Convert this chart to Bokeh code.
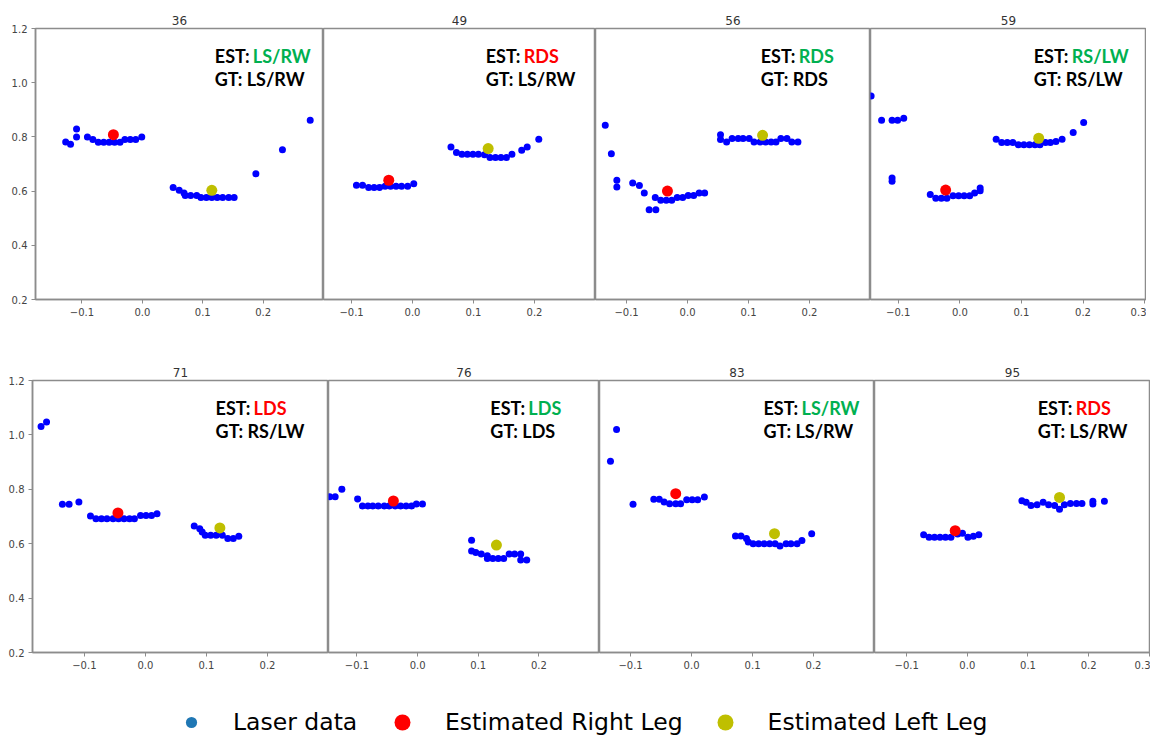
from bokeh.plotting import figure
from bokeh.layouts import column, row
from bokeh.models import Range1d, FixedTicker, Label, Legend, LegendItem
from bokeh.embed import file_html
from bokeh.resources import INLINE

# ---------------- data ----------------
titles = ["36", "49", "56", "59", "71", "76", "83", "95"]
est_labels = ["LS/RW", "RDS", "RDS", "RS/LW", "LDS", "LDS", "LS/RW", "RDS"]
est_correct = [True, False, True, True, False, True, True, False]
gt_labels = ["LS/RW", "LS/RW", "RDS", "RS/LW", "RS/LW", "LDS", "LS/RW", "LS/RW"]

right_leg_x = [-0.048, -0.039, -0.033, -0.023, -0.045, -0.040, -0.026, -0.020]
right_leg_y = [0.808, 0.640, 0.600, 0.604, 0.713, 0.757, 0.784, 0.648]
left_leg_x = [0.115, 0.124, 0.123, 0.128, 0.122, 0.130, 0.136, 0.152]
left_leg_y = [0.603, 0.757, 0.806, 0.795, 0.658, 0.595, 0.637, 0.770]

laser_x_36 = [-0.127, -0.119, -0.109, -0.109, -0.091, -0.082, -0.073, -0.064, -0.055, -0.046, -0.037,
              -0.029, -0.020, -0.011, -0.001, 0.051, 0.061, 0.069, 0.071, 0.080, 0.090, 0.097, 0.106,
              0.115, 0.124, 0.133, 0.143, 0.152, 0.188, 0.232, 0.278]
laser_y_36 = [0.781, 0.773, 0.829, 0.800, 0.800, 0.790, 0.780, 0.780, 0.780, 0.780, 0.780,
              0.790, 0.790, 0.790, 0.800, 0.613, 0.603, 0.593, 0.584, 0.584, 0.584, 0.576, 0.576,
              0.576, 0.576, 0.576, 0.576, 0.576, 0.664, 0.753, 0.861]

laser_x_49 = [-0.092, -0.082, -0.072, -0.063, -0.054, -0.045, -0.036, -0.027, -0.018, -0.008, 0.002,
              0.063, 0.072, 0.081, 0.090, 0.099, 0.108, 0.118, 0.127, 0.136, 0.145, 0.154, 0.163,
              0.179, 0.188, 0.207]
laser_y_49 = [0.622, 0.622, 0.613, 0.613, 0.613, 0.618, 0.618, 0.618, 0.618, 0.618, 0.627,
              0.763, 0.742, 0.736, 0.736, 0.736, 0.736, 0.734, 0.724, 0.724, 0.724, 0.724, 0.736,
              0.751, 0.763, 0.791]

laser_x_56 = [-0.135, -0.125, -0.116, -0.116, -0.090, -0.079, -0.071, -0.063, -0.052, -0.053, -0.044,
              -0.035, -0.026, -0.017, -0.008, 0.001, 0.010, 0.019, 0.028, 0.054, 0.054, 0.064, 0.073,
              0.083, 0.091, 0.101, 0.109, 0.119, 0.128, 0.137, 0.145, 0.153, 0.163, 0.171, 0.181]
laser_y_56 = [0.843, 0.738, 0.640, 0.615, 0.630, 0.621, 0.593, 0.531, 0.531, 0.576, 0.566,
              0.566, 0.566, 0.576, 0.576, 0.584, 0.584, 0.593, 0.593, 0.808, 0.790, 0.781, 0.794,
              0.794, 0.794, 0.794, 0.781, 0.781, 0.781, 0.781, 0.781, 0.794, 0.794, 0.781, 0.781]

laser_x_59 = [-0.144, -0.127, -0.110, -0.101, -0.091, -0.110, -0.110, -0.048, -0.039, -0.030, -0.021,
              -0.011, -0.002, 0.007, 0.016, 0.024, 0.033, 0.033, 0.059, 0.068, 0.077, 0.086, 0.095,
              0.104, 0.113, 0.122, 0.130, 0.139, 0.147, 0.156, 0.166, 0.184, 0.201]
laser_y_59 = [0.951, 0.861, 0.861, 0.861, 0.869, 0.648, 0.636, 0.587, 0.574, 0.574, 0.574,
              0.583, 0.583, 0.583, 0.583, 0.593, 0.601, 0.611, 0.791, 0.779, 0.779, 0.779, 0.771,
              0.771, 0.771, 0.771, 0.771, 0.779, 0.779, 0.783, 0.791, 0.816, 0.853]

laser_x_71 = [-0.171, -0.162, -0.136, -0.125, -0.109, -0.090, -0.081, -0.072, -0.063, -0.053, -0.044,
              -0.035, -0.026, -0.018, -0.008, 0.001, 0.010, 0.019, 0.080, 0.089, 0.093, 0.098, 0.107,
              0.116, 0.126, 0.135, 0.144, 0.153]
laser_y_71 = [1.031, 1.047, 0.745, 0.745, 0.753, 0.702, 0.692, 0.692, 0.692, 0.692, 0.692,
              0.692, 0.692, 0.692, 0.704, 0.704, 0.704, 0.710, 0.665, 0.655, 0.643, 0.631, 0.631,
              0.631, 0.631, 0.619, 0.619, 0.627]

laser_x_76 = [-0.145, -0.136, -0.125, -0.099, -0.091, -0.082, -0.074, -0.065, -0.055, -0.047, -0.037,
              -0.028, -0.019, -0.010, -0.002, 0.008, 0.089, 0.089, 0.096, 0.105, 0.115, 0.115, 0.124,
              0.133, 0.142, 0.151, 0.160, 0.170, 0.170, 0.180]
laser_y_76 = [0.773, 0.773, 0.800, 0.764, 0.739, 0.739, 0.739, 0.739, 0.739, 0.739, 0.739,
              0.739, 0.739, 0.739, 0.746, 0.746, 0.613, 0.573, 0.568, 0.562, 0.556, 0.546, 0.546,
              0.546, 0.546, 0.562, 0.562, 0.562, 0.540, 0.540]

laser_x_83 = [-0.133, -0.123, -0.096, -0.062, -0.053, -0.045, -0.036, -0.026, -0.018, -0.008, 0.001,
              0.010, 0.021, 0.072, 0.081, 0.090, 0.093, 0.101, 0.110, 0.119, 0.128, 0.137, 0.145,
              0.155, 0.163, 0.173, 0.181, 0.197]
laser_y_83 = [0.903, 1.020, 0.745, 0.763, 0.763, 0.753, 0.747, 0.747, 0.747, 0.762, 0.762,
              0.762, 0.772, 0.628, 0.628, 0.619, 0.606, 0.600, 0.600, 0.600, 0.600, 0.600, 0.592,
              0.600, 0.600, 0.600, 0.612, 0.637]

laser_x_95 = [-0.072, -0.063, -0.054, -0.045, -0.036, -0.027, -0.016, -0.008, 0.001, 0.010, 0.019,
              0.090, 0.097, 0.105, 0.115, 0.125, 0.134, 0.144, 0.152, 0.160, 0.170, 0.180, 0.189,
              0.207, 0.207, 0.226]
laser_y_95 = [0.633, 0.624, 0.624, 0.624, 0.624, 0.624, 0.636, 0.638, 0.624, 0.627, 0.633,
              0.758, 0.752, 0.740, 0.743, 0.752, 0.743, 0.740, 0.727, 0.743, 0.748, 0.748, 0.748,
              0.756, 0.746, 0.756]

laser_x = [laser_x_36, laser_x_49, laser_x_56, laser_x_59, laser_x_71, laser_x_76, laser_x_83, laser_x_95]
laser_y = [laser_y_36, laser_y_49, laser_y_56, laser_y_59, laser_y_71, laser_y_76, laser_y_83, laser_y_95]

x_tick_values = [-0.1, 0.0, 0.1, 0.2, 0.3]
x_tick_labels = ["\u22120.1", "0.0", "0.1", "0.2", "0.3"]
y_tick_values = [0.2, 0.4, 0.6, 0.8, 1.0, 1.2]
y_tick_labels = ["0.2", "0.4", "0.6", "0.8", "1.0", "1.2"]

# ---------------- layout / style ----------------
x_starts = [-0.177, -0.146, -0.151, -0.145, -0.185, -0.147, -0.151, -0.153]
x_ends = [0.3, 0.3, 0.3, 0.303, 0.3, 0.3, 0.3, 0.302]
widths = [323, 272, 275, 276, 328, 271, 275, 276]
left_borders = [35, 0, 0, 0, 32, 0, 0, 0]
show_y = [True, False, False, False, True, False, False, False]
label_x = [0.12, 0.12, 0.12, 0.12, 0.115, 0.12, 0.118, 0.116]
GRAY = "#8c8c8c"
GREEN = "#00b050"
RED = "#ff0000"


def make_panel(i):
    top = i < 4
    height = 329 if top else 348
    p = figure(width=widths[i], height=height, output_backend="svg", toolbar_location=None,
               x_range=Range1d(x_starts[i], x_ends[i]), y_range=Range1d(0.2, 1.2),
               y_axis_location="left" if show_y[i] else None, min_border=0)
    p.min_border_left = left_borders[i]
    p.min_border_right = 0
    p.min_border_top = 28 if top else 51
    p.min_border_bottom = 30 if top else 25
    p.grid.visible = False
    p.outline_line_color = GRAY
    p.outline_line_width = 1.5
    p.background_fill_color = "white"
    p.border_fill_color = "white"

    p.title.text = titles[i]
    p.title.align = "center"
    p.title.text_font = "DejaVu Sans"
    p.title.text_font_size = "12px"
    p.title.text_font_style = "normal"
    p.title.text_color = "#333333"
    p.title.standoff = 8

    ticks = [v for v in x_tick_values if x_starts[i] < v < x_ends[i]]
    p.xaxis.ticker = FixedTicker(ticks=ticks)
    p.xaxis.major_label_overrides = {v: l for v, l in zip(x_tick_values, x_tick_labels)}
    axes = list(p.xaxis)
    if show_y[i]:
        p.yaxis.ticker = FixedTicker(ticks=y_tick_values)
        p.yaxis.major_label_overrides = {v: l for v, l in zip(y_tick_values, y_tick_labels)}
        axes += list(p.yaxis)
    for ax in axes:
        ax.axis_line_color = GRAY
        ax.axis_line_width = 1.5
        ax.major_tick_line_color = GRAY
        ax.major_tick_out = 4
        ax.major_tick_in = 0
        ax.minor_tick_line_color = None
        ax.major_label_text_font = "DejaVu Sans"
        ax.major_label_text_font_size = "10px"
        ax.major_label_text_color = "#444444"
        ax.major_label_standoff = 4

    p.scatter(laser_x[i], laser_y[i], size=7, color="#0000ff", line_color=None)
    p.scatter([right_leg_x[i]], [right_leg_y[i]], size=11, color=RED, line_color=None)
    p.scatter([left_leg_x[i]], [left_leg_y[i]], size=11, color="#bfbf00", line_color=None)

    common = dict(text_font="Lato", text_font_style="bold", text_font_size="18px",
                  text_baseline="middle")
    p.add_layout(Label(x=label_x[i], y=1.1, text="EST:", text_color="black", **common))
    p.add_layout(Label(x=label_x[i], y=1.1, x_offset=38, text=est_labels[i],
                       text_color=GREEN if est_correct[i] else RED, **common))
    p.add_layout(Label(x=label_x[i], y=1.014, text="GT: " + gt_labels[i], text_color="black", **common))
    return p


panels = [make_panel(i) for i in range(8)]

# ---------------- legend strip ----------------
# the strip's ranges lie far from the data, so its sample renderers stay out of view
lf = figure(width=1146, height=60, output_backend="svg", toolbar_location=None,
            x_range=Range1d(10, 11), y_range=Range1d(10, 11),
            x_axis_location=None, y_axis_location=None, min_border=0)
lf.grid.visible = False
lf.outline_line_color = None
r_laser = lf.scatter(laser_x_36[:1], laser_y_36[:1], color="#1f77b4", line_color=None)
r_right = lf.scatter(right_leg_x[:1], right_leg_y[:1], color=RED, line_color=None)
r_left = lf.scatter(left_leg_x[:1], left_leg_y[:1], color="#bfbf00", line_color=None)

leg_common = dict(orientation="horizontal", padding=0, margin=0, border_line_color=None,
                  background_fill_alpha=0, label_text_font="DejaVu Sans",
                  label_text_font_size="23.5px", label_text_color="black")
leg_a = Legend(items=[LegendItem(label="Laser data", renderers=[r_laser])],
               location=(177, 1), glyph_width=28, glyph_height=28, label_height=28,
               label_standoff=28, **leg_common)
leg_b = Legend(items=[LegendItem(label="Estimated Right Leg", renderers=[r_right]),
                      LegendItem(label="Estimated Left Leg", renderers=[r_left])],
               location=(382, -5), glyph_width=40, glyph_height=40, label_height=40,
               label_standoff=23, spacing=22, **leg_common)
lf.add_layout(leg_a)
lf.add_layout(leg_b)

p = column(row(*panels[:4]), row(*panels[4:]), lf)

open("out.html", "w").write(file_html(p, INLINE))
